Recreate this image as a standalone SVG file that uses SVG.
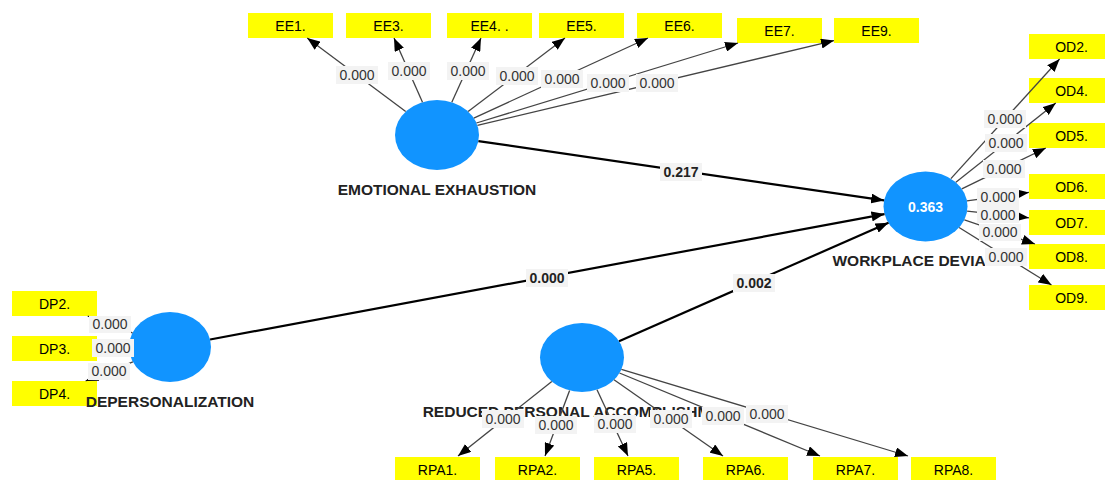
<svg xmlns="http://www.w3.org/2000/svg" width="1105" height="480" viewBox="0 0 1105 480">
<defs>
<style>
.bg{fill:#ffffff}
.lat{fill:#1194ff}
.ind{fill:#ffff00}
.it{font-family:"Liberation Sans",Arial,sans-serif;font-size:14px;fill:#000;text-anchor:middle}
.lt{font-family:"Liberation Sans",Arial,sans-serif;font-size:15.5px;font-weight:bold;fill:#222;text-anchor:middle}
.r2{font-family:"Liberation Sans",Arial,sans-serif;font-size:14px;font-weight:bold;fill:#ffffff;text-anchor:middle}
.ld{stroke:#444;stroke-width:1.3;fill:none;marker-end:url(#ah)}
.pc{stroke:#000;stroke-width:2.2;fill:none;marker-end:url(#ah)}
.lb{fill:#f3f3f3}
.ct{font-family:"Liberation Sans",Arial,sans-serif;font-size:14px;fill:#333;text-anchor:middle}
.cb{font-family:"Liberation Sans",Arial,sans-serif;font-size:14px;font-weight:bold;fill:#222;text-anchor:middle}
</style>
<marker id="ah" markerUnits="userSpaceOnUse" markerWidth="13" markerHeight="10" refX="13" refY="5" orient="auto">
<path d="M0,0 L13,5 L0,10 z" fill="#000"/>
</marker>
</defs>
<rect class="bg" x="0" y="0" width="1105" height="480"/>

<!-- indicator nodes -->
<g id="EE1"><rect class="ind" x="248" y="13" width="85" height="25"/><text class="it" x="290.5" y="30.5">EE1.</text></g>
<g id="EE3"><rect class="ind" x="346" y="13" width="85" height="25"/><text class="it" x="388.5" y="30.5">EE3.</text></g>
<g id="EE4"><rect class="ind" x="447" y="13" width="85" height="25"/><text class="it" x="489.5" y="30.5">EE4. .</text></g>
<g id="EE5"><rect class="ind" x="539" y="13" width="85" height="25"/><text class="it" x="581.5" y="30.5">EE5.</text></g>
<g id="EE6"><rect class="ind" x="637" y="13" width="85" height="25"/><text class="it" x="679.5" y="30.5">EE6.</text></g>
<g id="EE7"><rect class="ind" x="737" y="18" width="85" height="25"/><text class="it" x="779.5" y="35.5">EE7.</text></g>
<g id="EE9"><rect class="ind" x="834" y="18" width="85" height="25"/><text class="it" x="876.5" y="35.5">EE9.</text></g>

<g id="OD2"><rect class="ind" x="1029" y="34" width="85" height="25"/><text class="it" x="1071.5" y="51.5">OD2.</text></g>
<g id="OD4"><rect class="ind" x="1029" y="78" width="85" height="25"/><text class="it" x="1071.5" y="95.5">OD4.</text></g>
<g id="OD5"><rect class="ind" x="1029" y="123" width="85" height="25"/><text class="it" x="1071.5" y="140.5">OD5.</text></g>
<g id="OD6"><rect class="ind" x="1029" y="174" width="85" height="25"/><text class="it" x="1071.5" y="191.5">OD6.</text></g>
<g id="OD7"><rect class="ind" x="1029" y="210" width="85" height="25"/><text class="it" x="1071.5" y="227.5">OD7.</text></g>
<g id="OD8"><rect class="ind" x="1029" y="244" width="85" height="25"/><text class="it" x="1071.5" y="261.5">OD8.</text></g>
<g id="OD9"><rect class="ind" x="1029" y="285" width="85" height="25"/><text class="it" x="1071.5" y="302.5">OD9.</text></g>

<g id="DP2"><rect class="ind" x="12" y="291" width="85" height="25"/><text class="it" x="54.5" y="308.5">DP2.</text></g>
<g id="DP3"><rect class="ind" x="12" y="336" width="85" height="25"/><text class="it" x="54.5" y="353.5">DP3.</text></g>
<g id="DP4"><rect class="ind" x="12" y="381" width="85" height="25"/><text class="it" x="54.5" y="398.5">DP4.</text></g>

<g id="RPA1"><rect class="ind" x="395" y="457" width="85" height="25"/><text class="it" x="437.5" y="474.5">RPA1.</text></g>
<g id="RPA2"><rect class="ind" x="495" y="457" width="85" height="25"/><text class="it" x="537.5" y="474.5">RPA2.</text></g>
<g id="RPA5"><rect class="ind" x="594" y="457" width="85" height="25"/><text class="it" x="636.5" y="474.5">RPA5.</text></g>
<g id="RPA6"><rect class="ind" x="703" y="457" width="85" height="25"/><text class="it" x="745.5" y="474.5">RPA6.</text></g>
<g id="RPA7"><rect class="ind" x="813" y="457" width="85" height="25"/><text class="it" x="855.5" y="474.5">RPA7.</text></g>
<g id="RPA8"><rect class="ind" x="911" y="457" width="85" height="25"/><text class="it" x="953.5" y="474.5">RPA8.</text></g>

<!-- latent nodes -->
<g id="EMOTIONAL_EXHAUSTION"><ellipse class="lat" cx="437" cy="135" rx="42" ry="35"/><text class="lt" x="437" y="195">EMOTIONAL EXHAUSTION</text></g>
<g id="WORKPLACE_DEVIANCE"><ellipse class="lat" cx="925.5" cy="206.5" rx="42" ry="35"/><text class="r2" x="925.5" y="211.5">0.363</text><text class="lt" x="925.5" y="266">WORKPLACE DEVIANCE</text></g>
<g id="DEPERSONALIZATION"><ellipse class="lat" cx="170" cy="347" rx="41" ry="35"/><text class="lt" x="170" y="407">DEPERSONALIZATION</text></g>
<g id="REDUCED_PERSONAL_ACCOMPLISHMENT"><ellipse class="lat" cx="582" cy="357.5" rx="42" ry="34.5"/><text class="lt" x="582" y="417">REDUCED PERSONAL ACCOMPLISHMENT</text></g>

<!-- connectors -->
<g id="connectors">
<g id="connector-lines">
<line class="ld" x1="405.7" y1="111.6" x2="307.2" y2="38"/>
<line class="ld" x1="422.5" y1="102.2" x2="394" y2="38"/>
<line class="ld" x1="451.8" y1="102.3" x2="481" y2="38"/>
<line class="ld" x1="468.1" y1="111.5" x2="565" y2="38"/>
<line class="ld" x1="473.8" y1="118.1" x2="648" y2="38"/>
<line class="ld" x1="476.4" y1="123" x2="738" y2="43"/>
<line class="ld" x1="477.4" y1="125.4" x2="834" y2="40.6"/>

<line class="pc" x1="478.4" y1="141.1" x2="884.1" y2="200.4"/>
<line class="pc" x1="210.1" y1="339.5" x2="884.5" y2="214.1"/>
<line class="pc" x1="619" y1="341.2" x2="888.5" y2="222.8"/>

<line class="ld" x1="950.9" y1="178.6" x2="1059.6" y2="59"/>
<line class="ld" x1="955.9" y1="182.3" x2="1055.8" y2="103"/>
<line class="ld" x1="961.8" y1="188.9" x2="1045.8" y2="148"/>
<line class="ld" x1="967" y1="200.8" x2="1029" y2="192.4"/>
<line class="ld" x1="967.1" y1="211.1" x2="1029" y2="217.8"/>
<line class="ld" x1="964.4" y1="219.8" x2="1035" y2="244"/>
<line class="ld" x1="959.1" y1="227.5" x2="1051.5" y2="285"/>

<line class="ld" x1="132.5" y1="332.9" x2="87.7" y2="316"/>
<line class="ld" x1="129" y1="347.5" x2="97" y2="348"/>
<line class="ld" x1="132.9" y1="361.9" x2="85.6" y2="381"/>

<line class="ld" x1="551.8" y1="381.5" x2="458" y2="456"/>
<line class="ld" x1="569.6" y1="390.5" x2="545" y2="456"/>
<line class="ld" x1="597" y1="389.7" x2="628" y2="456"/>
<line class="ld" x1="614" y1="379.8" x2="723" y2="456"/>
<line class="ld" x1="619.5" y1="373" x2="820" y2="456"/>
<line class="ld" x1="621.4" y1="369.4" x2="908" y2="456"/>
</g>
<g id="connector-labels">
<rect class="lb" x="336" y="66" width="42" height="18"/><text class="ct" x="357" y="80">0.000</text>
<rect class="lb" x="388" y="62" width="42" height="18"/><text class="ct" x="409" y="76">0.000</text>
<rect class="lb" x="447" y="62" width="42" height="18"/><text class="ct" x="468" y="76">0.000</text>
<rect class="lb" x="496" y="67" width="42" height="18"/><text class="ct" x="517" y="81">0.000</text>
<rect class="lb" x="541" y="70" width="42" height="18"/><text class="ct" x="562" y="84">0.000</text>
<rect class="lb" x="587" y="74" width="42" height="18"/><text class="ct" x="608" y="88">0.000</text>
<rect class="lb" x="636" y="74" width="42" height="18"/><text class="ct" x="657" y="88">0.000</text>

<rect class="lb" x="660" y="163" width="42" height="18"/><text class="cb" x="681" y="177">0.217</text>
<rect class="lb" x="526" y="269" width="42" height="18"/><text class="cb" x="547" y="283">0.000</text>
<rect class="lb" x="733" y="274" width="42" height="18"/><text class="cb" x="754" y="288">0.002</text>

<rect class="lb" x="984" y="110" width="42" height="18"/><text class="ct" x="1005" y="124">0.000</text>
<rect class="lb" x="985" y="134" width="42" height="18"/><text class="ct" x="1006" y="148">0.000</text>
<rect class="lb" x="983" y="160" width="42" height="18"/><text class="ct" x="1004" y="174">0.000</text>
<rect class="lb" x="977" y="188" width="42" height="18"/><text class="ct" x="998" y="202">0.000</text>
<rect class="lb" x="977" y="206" width="42" height="17"/><text class="ct" x="998" y="220">0.000</text>
<rect class="lb" x="979" y="224" width="42" height="17"/><text class="ct" x="1000" y="237">0.000</text>
<rect class="lb" x="985" y="248" width="42" height="18"/><text class="ct" x="1006" y="262">0.000</text>

<rect class="lb" x="89" y="316" width="42" height="17"/><text class="ct" x="110" y="329">0.000</text>
<rect class="lb" x="92" y="339" width="42" height="18"/><text class="ct" x="113" y="353">0.000</text>
<rect class="lb" x="88" y="363" width="42" height="17"/><text class="ct" x="109" y="376">0.000</text>

<rect class="lb" x="482" y="410" width="42" height="18"/><text class="ct" x="503" y="424">0.000</text>
<rect class="lb" x="535" y="416" width="42" height="18"/><text class="ct" x="556" y="430">0.000</text>
<rect class="lb" x="594" y="415" width="42" height="18"/><text class="ct" x="615" y="429">0.000</text>
<rect class="lb" x="650" y="410" width="42" height="18"/><text class="ct" x="671" y="424">0.000</text>
<rect class="lb" x="702" y="407" width="42" height="18"/><text class="ct" x="723" y="421">0.000</text>
<rect class="lb" x="746" y="405" width="42" height="18"/><text class="ct" x="767" y="419">0.000</text>
</g>
</g>
</svg>
